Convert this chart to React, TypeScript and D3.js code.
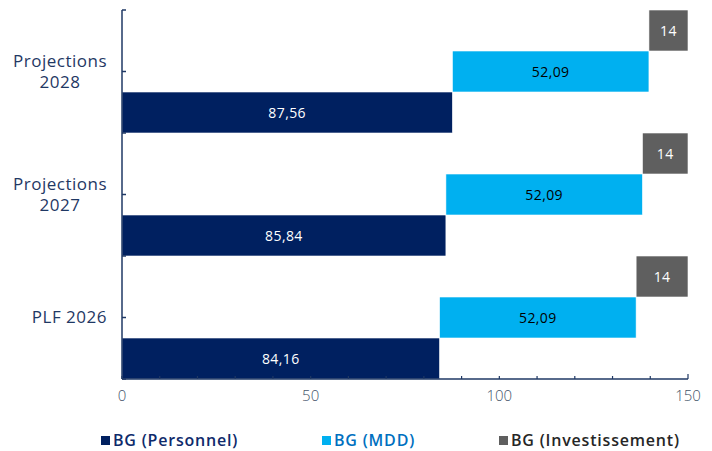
import React, { useEffect, useRef } from "react";
import * as d3 from "d3";

const categories = [["Projections", "2028"], ["Projections", "2027"], ["PLF 2026"]];
const personnel = [87.56, 85.84, 84.16];
const mdd = [52.09, 52.09, 52.09];
const invest = [14, 14, 14];
const seriesNames = ["BG (Personnel)", "BG (MDD)", "BG (Investissement)"];
const seriesColors = ["#002060", "#00B0F0", "#5F5F5F"];
const legendTextColors = ["#0E2A6B", "#0070C0", "#262626"];
const labelColors = ["#FFFFFF", "#000000", "#FFFFFF"];
const xTicks = [0, 50, 100, 150];

const W = 712, H = 451;
const FONT = "'Open Sans', 'Noto Sans', sans-serif";

function fmt(v: number) {
  return Number.isInteger(v) ? String(v) : v.toFixed(2).replace(".", ",");
}

export default function App() {
  const ref = useRef<SVGSVGElement>(null);
  useEffect(() => {
    const svg = d3.select(ref.current);
    svg.selectAll("*").remove();
    const x = d3.scaleLinear().domain([0, 150]).range([122, 688]);
    const keys = categories.map((c) => c.join(" "));
    const y = d3.scaleBand().domain(keys).range([10, 379]).paddingInner(0).paddingOuter(0);
    const sub = d3.scaleBand().domain(["2", "1", "0"]).range([0, y.bandwidth()]);

    const rows = keys.map((k, i) => {
      const vals = [personnel[i], mdd[i], invest[i]];
      let start = 0;
      return vals.map((v, s) => {
        const seg = { key: k, s, v, x0: start, x1: start + v };
        start += v;
        return seg;
      });
    }).flat();

    const g = svg.append("g");
    g.selectAll("rect.bar").data(rows).enter().append("rect")
      .attr("x", (d) => x(d.x0))
      .attr("width", (d) => x(Math.min(d.x1, 150)) - x(d.x0))
      .attr("y", (d) => (y(d.key) as number) + (sub(String(d.s)) as number))
      .attr("height", sub.bandwidth())
      .attr("fill", (d) => seriesColors[d.s])
      .attr("stroke", "#ffffff")
      .attr("stroke-width", 0.6);

    g.selectAll("text.lbl").data(rows).enter().append("text")
      .attr("x", (d) => (x(d.x0) + x(Math.min(d.x1, 150))) / 2)
      .attr("y", (d) => (y(d.key) as number) + (sub(String(d.s)) as number) + sub.bandwidth() / 2)
      .attr("dy", "0.36em")
      .attr("text-anchor", "middle")
      .attr("font-family", FONT)
      .attr("font-size", 14)
      .attr("font-weight", 500)
      .attr("letter-spacing", 0.4)
      .attr("fill", (d) => labelColors[d.s])
      .text((d) => fmt(d.v));

    // axes
    const axisColor = "#1F3864";
    g.append("line").attr("x1", 122).attr("x2", 122).attr("y1", 10).attr("y2", 379)
      .attr("stroke", axisColor).attr("stroke-width", 1.5);
    g.append("line").attr("x1", 122).attr("x2", 688).attr("y1", 379).attr("y2", 379)
      .attr("stroke", axisColor).attr("stroke-width", 1.5);
    const yTickPos: number[] = [];
    keys.forEach((k) => {
      yTickPos.push(y(k) as number);
      yTickPos.push((y(k) as number) + y.bandwidth() / 2);
    });
    yTickPos.push(379);
    g.selectAll("line.yt").data(yTickPos).enter().append("line")
      .attr("x1", 122).attr("x2", 126).attr("y1", (d) => d).attr("y2", (d) => d)
      .attr("stroke", axisColor).attr("stroke-width", 1.5);
    const minor = d3.range(0, 151, 10);
    g.selectAll("line.xt").data(minor).enter().append("line")
      .attr("x1", (d) => x(d)).attr("x2", (d) => x(d))
      .attr("y1", 379).attr("y2", (d) => (d === 150 ? 374 : 376))
      .attr("stroke", axisColor).attr("stroke-width", 1.2);
    g.selectAll("text.xl").data(xTicks).enter().append("text")
      .attr("x", (d) => x(d)).attr("y", 396).attr("dy", "0.35em")
      .attr("text-anchor", "middle")
      .attr("font-family", FONT).attr("font-size", 15).attr("font-weight", 300)
      .attr("fill", "#44546A")
      .text((d) => String(d));

    // category labels
    categories.forEach((lines, i) => {
      const cy = (y(keys[i]) as number) + y.bandwidth() / 2;
      const lh = 21.5;
      const texts = lines.map((l, j) =>
        g.append("text")
          .attr("font-family", FONT).attr("font-size", 17)
          .attr("letter-spacing", 0.5)
          .attr("fill", "#1F3864").attr("text-anchor", "middle")
          .attr("y", cy + (j - (lines.length - 1) / 2) * lh).attr("dy", "0.35em").text(l)
      );
      const w = d3.max(texts.map((ts) => (ts.node() as SVGTextElement).getComputedTextLength())) || 0;
      const cx = 107 - w / 2;
      texts.forEach((ts) => ts.attr("x", cx));
    });

    // legend
    const lx = [101, 322, 499];
    seriesNames.forEach((n, i) => {
      g.append("rect").attr("x", lx[i]).attr("y", 436).attr("width", 9).attr("height", 9)
        .attr("fill", seriesColors[i]);
      g.append("text").attr("x", lx[i] + 12).attr("y", 440.5).attr("dy", "0.35em")
        .attr("font-family", FONT).attr("font-size", 16).attr("font-weight", 600)
        .attr("letter-spacing", 0.8)
        .attr("fill", legendTextColors[i]).text(n);
    });
  }, []);
  return (
    <svg ref={ref} width={W} height={H}
      style={{ position: "absolute", left: 0, top: 0, background: "#fff", display: "block" }} />
  );
}
